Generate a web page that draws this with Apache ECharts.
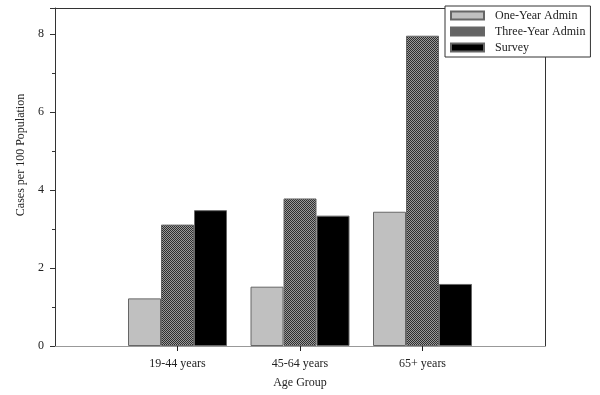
<!DOCTYPE html>
<html>
<head>
<meta charset="utf-8">
<script src="https://cdn.jsdelivr.net/npm/echarts@6/dist/echarts.min.js"></script>
<style>
    html, body { margin: 0; padding: 0; background: #fff; }
    #chart { width: 600px; height: 395px; }
</style>
</head>
<body>
<div id="chart"></div>
<script>
'use strict';

// chart data
var ageGroups = ['19-44 years', '45-64 years', '65+ years'];
var oneYearAdmin = [1.22, 1.52, 3.44];
var threeYearAdmin = [3.11, 3.78, 7.95];
var survey = [3.48, 3.34, 1.59];
var yTicks = [0, 2, 4, 6, 8];

// pad categories so groups sit at positions 1..3 on a 0..4 axis
var padCats = function (arr) {
    return [''].concat(arr).concat(['']);
};
var padVals = function (arr) {
    return ['-'].concat(arr).concat(['-']);
};

// dithered pattern for the three-year bars
var makePattern = function () {
    var c = document.createElement('canvas');
    c.width = 4;
    c.height = 4;
    var ctx = c.getContext('2d');
    ctx.fillStyle = '#9a9a9a';
    ctx.fillRect(0, 0, 4, 4);
    ctx.fillStyle = '#2e2e2e';
    for (var y = 0; y < 4; y++) {
        for (var x = 0; x < 4; x++) {
            if ((x + y) % 2 == 0) {
                ctx.fillRect(x, y, 1, 1);
            }
        }
    }
    return c;
};

var font = '"Liberation Serif", "Times New Roman", serif';
var textColor = '#222';
var pattern = makePattern();

var option = {
    animation: false,
    backgroundColor: '#fff',
    grid: { left: 55, right: 55, top: 8, bottom: 49, outerBoundsMode: 'none', containLabel: false },
    legend: {
        orient: 'vertical',
        left: 445,
        top: 6,
        padding: [3, 5, 3, 5],
        itemGap: 3,
        itemWidth: 33,
        itemHeight: 8,
        icon: 'rect',
        backgroundColor: '#fff',
        borderColor: '#333',
        borderWidth: 1,
        z: 10,
        textStyle: { fontFamily: font, fontSize: 12, color: textColor, padding: [0, 0, 0, 6], lineHeight: 13 },
        data: [
            { name: 'One-Year Admin' },
            { name: 'Three-Year Admin', itemStyle: { color: { image: pattern, repeat: 'repeat' } } },
            { name: 'Survey' }
        ]
    },
    xAxis: [{
        type: 'category',
        data: padCats(ageGroups),
        boundaryGap: false,
        name: 'Age Group',
        nameLocation: 'middle',
        nameGap: 31,
        nameTextStyle: { fontFamily: font, fontSize: 12, color: textColor },
        axisLine: { lineStyle: { color: '#999', width: 1 } },
        axisTick: {
            length: 5,
            lineStyle: { color: '#222' },
            interval: function (idx) { return idx > 0 && idx < ageGroups.length + 1; }
        },
        axisLabel: { fontFamily: font, fontSize: 12, color: textColor, margin: 12, interval: 0 },
        splitLine: { show: false }
    }, {
        type: 'value',
        position: 'top',
        min: 0,
        max: 1,
        axisLine: { show: true, onZero: false, lineStyle: { color: '#333' } },
        axisTick: { show: false },
        axisLabel: { show: false },
        splitLine: { show: false }
    }],
    yAxis: [{
        type: 'value',
        min: 0,
        max: 8.66,
        interval: 2,
        name: 'Cases per 100 Population',
        nameLocation: 'middle',
        nameGap: 28,
        nameTextStyle: { fontFamily: font, fontSize: 12, color: textColor, padding: [0, 0, 0, 44] },
        axisLine: { show: true, lineStyle: { color: '#333', width: 1 } },
        axisTick: { show: true, length: 5, lineStyle: { color: '#333' } },
        minorTick: { show: true, splitNumber: 2, length: 3, lineStyle: { color: '#333' } },
        axisLabel: {
            fontFamily: font, fontSize: 12, color: textColor, margin: 11, showMaxLabel: false,
            formatter: function (v) { return yTicks.indexOf(v) >= 0 ? String(v) : ''; }
        },
        splitLine: { show: false }
    }, {
        type: 'value',
        position: 'right',
        min: 0,
        max: 1,
        axisLine: { show: true, onZero: false, lineStyle: { color: '#333' } },
        axisTick: { show: false },
        axisLabel: { show: false },
        splitLine: { show: false }
    }],
    series: [{
        name: 'One-Year Admin',
        type: 'bar',
        barWidth: 33,
        barGap: '0%',
        itemStyle: { color: '#c0c0c0', borderColor: '#666', borderWidth: 1 },
        data: padVals(oneYearAdmin)
    }, {
        name: 'Three-Year Admin',
        type: 'bar',
        barWidth: 33,
        barGap: '0%',
        itemStyle: { color: { image: pattern, repeat: 'repeat' }, borderColor: '#666', borderWidth: 1 },
        data: padVals(threeYearAdmin)
    }, {
        name: 'Survey',
        type: 'bar',
        barWidth: 33,
        barGap: '0%',
        itemStyle: { color: '#000', borderColor: '#666', borderWidth: 1 },
        data: padVals(survey)
    }]
};

var myChart = echarts.init(document.getElementById('chart'));
myChart.setOption(option);
</script>
</body>
</html>
